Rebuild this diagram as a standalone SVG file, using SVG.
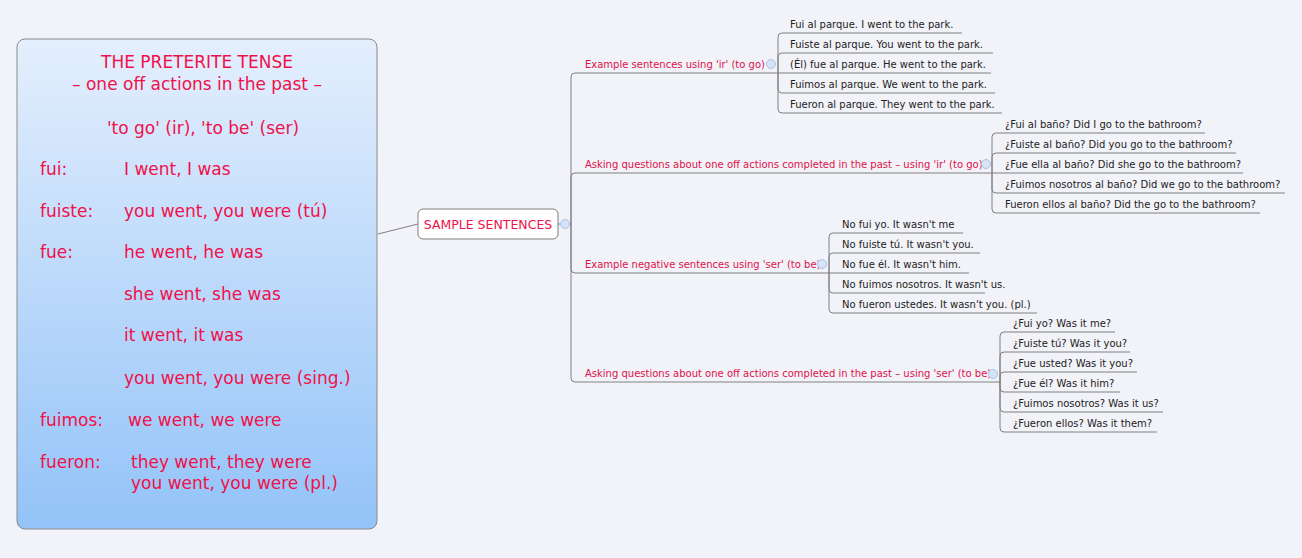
<svg xmlns="http://www.w3.org/2000/svg" width="1302" height="558" viewBox="0 0 1302 558">
<defs>
<linearGradient id="g" x1="0" y1="0" x2="0" y2="1"><stop offset="0" stop-color="#e4effd"/><stop offset="1" stop-color="#93c3f8"/></linearGradient>
<style>
.t{font-family:"DejaVu Sans",sans-serif;font-size:10px;fill:#222}
.b{font-family:"DejaVu Sans",sans-serif;font-size:10px;fill:#e0104a}
.p{font-family:"DejaVu Sans",sans-serif;font-size:17px;fill:#f0104a}
.l{fill:none;stroke:#808080;stroke-width:1}
.c{fill:#d6e4f8;stroke:#a9c2ea;stroke-width:1}
</style>
</defs>
<rect width="1302" height="558" fill="#f2f3f8"/>
<g id="connectors">
<path class="l" d="M378,234 L418,224"/>
<path class="l" d="M558,224 H571"/>
<path class="l" d="M571,224 V77 Q571,73 575,73 H778"/>
<path class="l" d="M571,224 V177 Q571,173 575,173 H992"/>
<path class="l" d="M571,224 V269 Q571,273 575,273 H829"/>
<path class="l" d="M571,224 V378 Q571,382 575,382 H1000"/>
<path class="l" d="M778,73 V37 Q778,33 782,33 H962 M778,73 V57 Q778,53 782,53 H993 M778,73 H991 M778,73 V89 Q778,93 782,93 H995 M778,73 V109 Q778,113 782,113 H1002"/>
<path class="l" d="M992,173 V137 Q992,133 996,133 H1205 M992,173 V157 Q992,153 996,153 H1236 M992,173 H1243 M992,173 V189 Q992,193 996,193 H1285 M992,173 V209 Q992,213 996,213 H1260"/>
<path class="l" d="M829,273 V237 Q829,233 833,233 H963 M829,273 V257 Q829,253 833,253 H980 M829,273 H969 M829,273 V289 Q829,293 833,293 H985 M829,273 V309 Q829,313 833,313 H1037"/>
<path class="l" d="M1000,382 V336 Q1000,332 1004,332 H1115 M1000,382 V356 Q1000,352 1004,352 H1130 M1000,382 V376 Q1000,372 1004,372 H1137 M1000,382 V388 Q1000,392 1004,392 H1120 M1000,382 V408 Q1000,412 1004,412 H1163 M1000,382 V428 Q1000,432 1004,432 H1157"/>
</g>
<g id="main">
<rect x="17" y="39" width="360" height="490" rx="8" fill="url(#g)" stroke="#8a8a8a"/>
<text class="p" x="197" y="68" text-anchor="middle">THE PRETERITE TENSE</text>
<text class="p" x="197" y="90" text-anchor="middle">– one off actions in the past –</text>
<text class="p" x="203" y="134" text-anchor="middle">'to go' (ir), 'to be' (ser)</text>
<text class="p" x="40" y="175">fui:</text><text class="p" x="124" y="175">I went, I was</text>
<text class="p" x="40" y="217">fuiste:</text><text class="p" x="124" y="217">you went, you were (tú)</text>
<text class="p" x="40" y="258">fue:</text><text class="p" x="124" y="258">he went, he was</text>
<text class="p" x="124" y="300">she went, she was</text>
<text class="p" x="124" y="341">it went, it was</text>
<text class="p" x="124" y="384">you went, you were (sing.)</text>
<text class="p" x="40" y="426">fuimos:</text><text class="p" x="128" y="426">we went, we were</text>
<text class="p" x="40" y="468">fueron:</text><text class="p" x="131" y="468">they went, they were</text>
<text class="p" x="131" y="489">you went, you were (pl.)</text>
</g>
<g id="sample">
<rect x="418" y="209" width="140" height="30" rx="5" fill="#fff" stroke="#808080"/>
<text x="488" y="229" text-anchor="middle" style="font-family:'DejaVu Sans',sans-serif;font-size:12.5px;fill:#f0104a">SAMPLE SENTENCES</text>
<circle class="c" cx="565" cy="224" r="4.5"/>
</g>
<g id="branch1">
<text class="b" x="585" y="68">Example sentences using 'ir' (to go)</text><circle class="c" cx="771" cy="64" r="4.5"/>
<text class="t" x="790" y="28">Fui al parque.   I went to the park.</text>
<text class="t" x="790" y="48">Fuiste al parque.   You went to the park.</text>
<text class="t" x="790" y="68">(Él) fue al parque.   He went to the park.</text>
<text class="t" x="790" y="88">Fuimos al parque.   We went to the park.</text>
<text class="t" x="790" y="108">Fueron al parque.   They went to the park.</text>
</g>
<g id="branch2">
<text class="b" x="585" y="168">Asking questions about one off actions completed in the past – using 'ir' (to go)</text><circle class="c" cx="986" cy="164" r="4.5"/>
<text class="t" x="1005" y="128">¿Fui al baño?   Did I go to the bathroom?</text>
<text class="t" x="1005" y="148">¿Fuiste al baño?   Did you go to the bathroom?</text>
<text class="t" x="1005" y="168">¿Fue ella al baño?   Did she go to the bathroom?</text>
<text class="t" x="1005" y="188">¿Fuimos nosotros al baño?   Did we go to the bathroom?</text>
<text class="t" x="1005" y="208">Fueron ellos al baño?   Did the go to the bathroom?</text>
</g>
<g id="branch3">
<text class="b" x="585" y="268">Example negative sentences using 'ser' (to be)</text><circle class="c" cx="822" cy="264" r="4.5"/>
<text class="t" x="842" y="228">No fui yo.   It wasn't me</text>
<text class="t" x="842" y="248">No fuiste tú.   It wasn't you.</text>
<text class="t" x="842" y="268">No fue él.   It wasn't him.</text>
<text class="t" x="842" y="288">No fuimos nosotros.   It wasn't us.</text>
<text class="t" x="842" y="308">No fueron ustedes.   It wasn't you. (pl.)</text>
</g>
<g id="branch4">
<text class="b" x="585" y="377">Asking questions about one off actions completed in the past – using 'ser' (to be)</text><circle class="c" cx="993" cy="374" r="4.5"/>
<text class="t" x="1013" y="327">¿Fui yo?   Was it me?</text>
<text class="t" x="1013" y="347">¿Fuiste tú?   Was it you?</text>
<text class="t" x="1013" y="367">¿Fue usted?   Was it you?</text>
<text class="t" x="1013" y="387">¿Fue él?   Was it him?</text>
<text class="t" x="1013" y="407">¿Fuimos nosotros?   Was it us?</text>
<text class="t" x="1013" y="427">¿Fueron ellos?   Was it them?</text>
</g>
</svg>
